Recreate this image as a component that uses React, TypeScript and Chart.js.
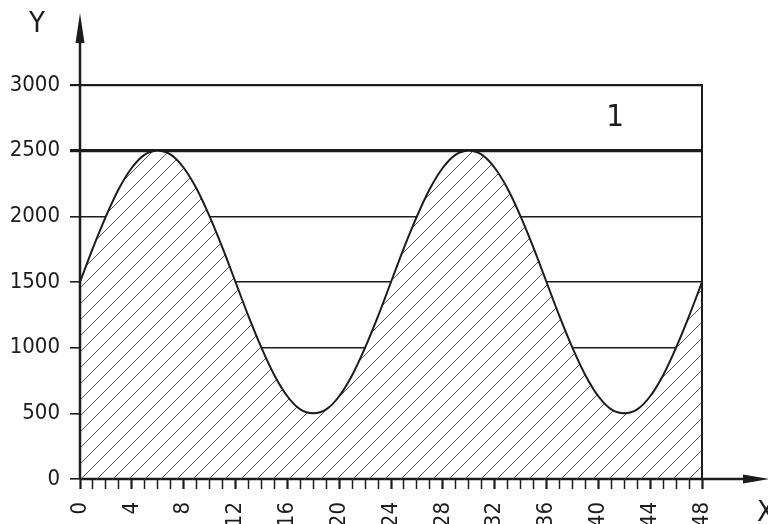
import React, { useEffect, useRef } from "react";
import { Chart, registerables } from "chart.js";

Chart.register(...registerables);

// Data
const xValues = [
  0, 1, 2, 3, 4, 5, 6, 7, 8, 9, 10, 11, 12, 13, 14, 15, 16, 17, 18, 19, 20, 21, 22, 23, 24,
  25, 26, 27, 28, 29, 30, 31, 32, 33, 34, 35, 36, 37, 38, 39, 40, 41, 42, 43, 44, 45, 46, 47, 48,
];
const yValues = [
  1500, 1760, 2000, 2210, 2370, 2470, 2500, 2470, 2370, 2210, 2000, 1760, 1500, 1240, 1000, 790,
  630, 530, 500, 530, 630, 790, 1000, 1240, 1500, 1760, 2000, 2210, 2370, 2470, 2500, 2470, 2370,
  2210, 2000, 1760, 1500, 1240, 1000, 790, 630, 530, 500, 530, 630, 790, 1000, 1240, 1500,
];
const xMin = 0;
const xMax = 48;
const xLabelStep = 4;
const yMin = 0;
const yMax = 3000;
const yStep = 500;
const limitValue = 2500;
const zoneLabel = "1";
const zoneLabelPos = { x: 41.3, y: 2750 };
const xAxisTitle = "X";
const yAxisTitle = "Y";

const FONT = "'DejaVu Sans Condensed', 'Liberation Sans Narrow', sans-serif";
const INK = "#1c1c1c";

function makeHatch(): CanvasPattern | string {
  const c = document.createElement("canvas");
  const s = 16;
  c.width = s;
  c.height = s;
  const g = c.getContext("2d");
  if (!g) return "#fff";
  g.fillStyle = "#ffffff";
  g.fillRect(0, 0, s, s);
  g.strokeStyle = "#444444";
  g.lineWidth = 0.9;
  g.beginPath();
  g.moveTo(-2, s + 2);
  g.lineTo(s + 2, -2);
  g.moveTo(-4, 4);
  g.lineTo(4, -4);
  g.moveTo(s - 4, s + 4);
  g.lineTo(s + 4, s - 4);
  g.stroke();
  const p = g.createPattern(c, "repeat");
  return p || "#fff";
}

const decorPlugin = {
  id: "decor",
  afterDraw(chart: any) {
    const { ctx, chartArea, scales } = chart;
    const { left, right, top, bottom } = chartArea;
    ctx.save();
    ctx.strokeStyle = INK;
    ctx.fillStyle = INK;
    // right border
    ctx.lineWidth = 2;
    ctx.beginPath();
    ctx.moveTo(right, top - 1);
    ctx.lineTo(right, bottom);
    ctx.stroke();
    // axes
    ctx.lineWidth = 2.5;
    ctx.beginPath();
    ctx.moveTo(left, bottom);
    ctx.lineTo(left, 40);
    ctx.moveTo(left, bottom);
    ctx.lineTo(745, bottom);
    ctx.stroke();
    // arrows
    ctx.beginPath();
    ctx.moveTo(left, 13);
    ctx.lineTo(left - 4.5, 43);
    ctx.lineTo(left + 4.5, 43);
    ctx.closePath();
    ctx.fill();
    ctx.beginPath();
    ctx.moveTo(769, bottom);
    ctx.lineTo(743, bottom - 4.5);
    ctx.lineTo(743, bottom + 4.5);
    ctx.closePath();
    ctx.fill();
    // axis titles
    ctx.font = `29px ${FONT}`;
    ctx.textBaseline = "middle";
    ctx.textAlign = "center";
    ctx.fillText(yAxisTitle, 37, 24);
    ctx.textAlign = "left";
    ctx.fillText(xAxisTitle, 757, 513);
    // zone label
    ctx.font = `31px ${FONT}`;
    ctx.textAlign = "center";
    ctx.fillText(
      zoneLabel,
      scales.x.getPixelForValue(zoneLabelPos.x),
      scales.y.getPixelForValue(zoneLabelPos.y)
    );
    ctx.restore();
  },
};

export default function App() {
  const ref = useRef<HTMLCanvasElement | null>(null);

  useEffect(() => {
    if (!ref.current) return;
    const hatch = makeHatch();
    const chart = new Chart(ref.current, {
      type: "line",
      data: {
        datasets: [
          {
            data: xValues.map((x, i) => ({ x, y: yValues[i] })),
            borderColor: INK,
            borderWidth: 2,
            backgroundColor: hatch as any,
            fill: "origin",
            pointRadius: 0,
            cubicInterpolationMode: "monotone",
          },
        ],
      },
      options: {
        animation: false,
        responsive: true,
        maintainAspectRatio: false,
        layout: { padding: { top: 85, right: 66, left: 0, bottom: 0 } },
        plugins: {
          legend: { display: false },
          tooltip: { enabled: false },
        },
        scales: {
          x: {
            type: "linear",
            min: xMin,
            max: xMax,
            border: { display: false },
            afterFit: (s: any) => {
              s.height = 45;
            },
            grid: {
              drawOnChartArea: false,
              drawTicks: true,
              tickLength: 10,
              tickColor: INK,
              tickWidth: (c: any) => (c.tick && c.tick.value % xLabelStep === 0 ? 2.2 : 1.5),
            } as any,
            ticks: {
              stepSize: 1,
              autoSkip: false,
              minRotation: 90,
              maxRotation: 90,
              padding: 13,
              color: INK,
              font: { family: FONT, size: 22 },
              callback: (v: any) => (Number(v) % xLabelStep === 0 ? String(v) : ""),
            },
          },
          y: {
            min: yMin,
            max: yMax,
            border: { display: false },
            afterFit: (s: any) => {
              s.width = 80;
            },
            grid: {
              drawOnChartArea: true,
              drawTicks: true,
              tickLength: 10,
              color: INK,
              lineWidth: (c: any) =>
                c.tick && c.tick.value === limitValue ? 3.2 : c.tick && c.tick.value === yMax ? 2.2 : 1.6,
            },
            ticks: {
              stepSize: yStep,
              padding: 10,
              color: INK,
              font: { family: FONT, size: 22 },
              callback: (v: any) => String(v),
            },
          },
        },
      },
      plugins: [decorPlugin],
    });
    return () => chart.destroy();
  }, []);

  return (
    <div style={{ position: "fixed", left: 0, top: 0, width: 768, height: 524, background: "#fff" }}>
      <canvas ref={ref} />
    </div>
  );
}
